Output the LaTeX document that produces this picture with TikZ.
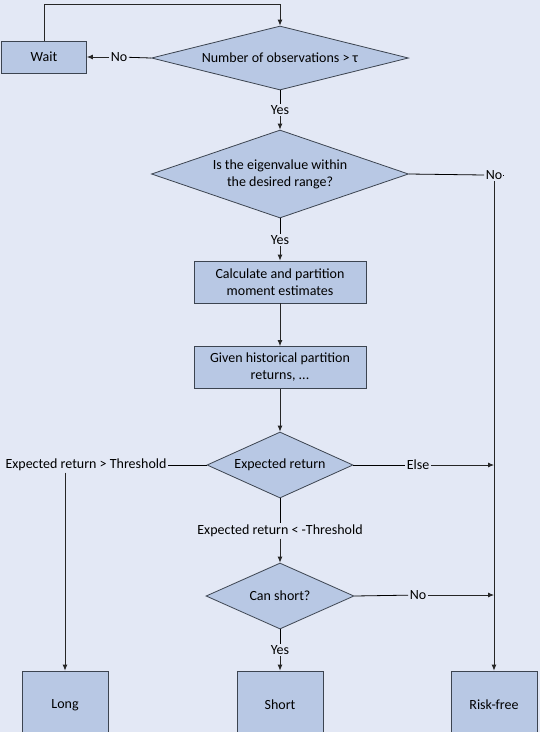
\documentclass[tikz,border=0pt]{standalone}
\usepackage{fontspec}
\setmainfont{Carlito}
\usetikzlibrary{arrows.meta,shapes.geometric}
\definecolor{bgblue}{HTML}{E3E8F5}
\definecolor{boxblue}{HTML}{B8C8E4}
\definecolor{edgegray}{HTML}{3C4450}

\begin{document}
\begin{tikzpicture}[
    x=1pt, y=-1pt,
    >={Latex[length=6pt,width=5pt]},
    every node/.style={align=center, font=\fontsize{14}{17}\selectfont},
    box/.style={
        draw=edgegray,
        thick,
        fill=boxblue,
        minimum width=172pt,
        minimum height=42pt,
        inner sep=2pt
    },
    endbox/.style={
        box,
        minimum width=86pt,
        minimum height=68pt
    },
    decision/.style={
        diamond,
        draw=edgegray,
        thick,
        fill=boxblue,
        inner sep=0pt
    },
    flow/.style={
        ->,
        thick,
        draw=black!85
    },
    lbl/.style={
        fill=bgblue,
        inner sep=1.5pt
    }
]

\fill[bgblue] (0,0) rectangle (540,732);
\clip (0,0) rectangle (540,732);
\useasboundingbox (0,0) rectangle (540,732);

\node[box, minimum width=85pt, minimum height=32pt] (wait) at (44,57) {Wait};
\node[decision, minimum width=257pt, minimum height=64pt, aspect=4] (nobs) at (280,58) {Number of observations > τ};
\node[decision, minimum width=257pt, minimum height=88pt, aspect=3] (eigen) at (280,174) {Is the eigenvalue within\\the desired range?};
\node[box] (calc) at (280,282) {Calculate and partition\\moment estimates};
\node[box] (given) at (280,367.5) {Given historical partition\\returns, ...};
\node[decision, minimum width=146pt, minimum height=66pt, aspect=2.2] (expret) at (280,465) {Expected return};
\node[decision, minimum width=148pt, minimum height=66pt, aspect=2.2] (canshort) at (280,596) {Can short?};
\node[endbox] (long) at (65,705) {Long};
\node[endbox] (short) at (280,705) {Short};
\node[endbox] (riskfree) at (494,705) {Risk-free};

\node[lbl] (nowait) at (119,57) {No};
\node[lbl] (yes1) at (280,110) {Yes};
\node[lbl] (noeigen) at (494,175) {No};
\coordinate (noend) at (503,175);
\node[lbl] (yes2) at (280,240) {Yes};
\node[lbl] (gtthr) at (86,465) {Expected return > Threshold};
\node[lbl] (else) at (418,465) {Else};
\node[lbl] (ltthr) at (280,531) {Expected return < -Threshold};
\node[lbl] (noshort) at (418,595) {No};
\node[lbl] (yes3) at (280,650) {Yes};

\draw[flow] (wait.north) -- (44,4) -| (nobs.north);
\draw[thick] (nobs.west) -- (nowait);
\draw[flow] (nowait) -- (wait.east);
\draw[thick] (nobs.south) -- (yes1);
\draw[flow] (yes1) -- (eigen.north);
\draw[thick] (eigen.east) -- (noeigen.west);
\draw[thick] (noeigen.east) -- (noend);
\draw[flow] (noeigen.south) -- (riskfree.north);
\draw[thick] (eigen.south) -- (yes2);
\draw[flow] (yes2) -- (calc.north);
\draw[flow] (calc) -- (given);
\draw[flow] (given) -- (expret);
\draw[thick] (expret.west) -- (gtthr.east);
\draw[flow] (gtthr.south -| long.north) -- (long.north);
\draw[thick] (expret.east) -- (else);
\draw[flow] (else) -- (noeigen.south |- else);
\draw[thick] (expret.south) -- (ltthr);
\draw[flow] (ltthr) -- (canshort.north);
\draw[thick] (canshort.east) -- (noshort);
\draw[flow] (noshort) -- (noeigen.south |- noshort);
\draw[thick] (canshort.south) -- (yes3);
\draw[flow] (yes3) -- (short.north);
\end{tikzpicture}
\end{document}
